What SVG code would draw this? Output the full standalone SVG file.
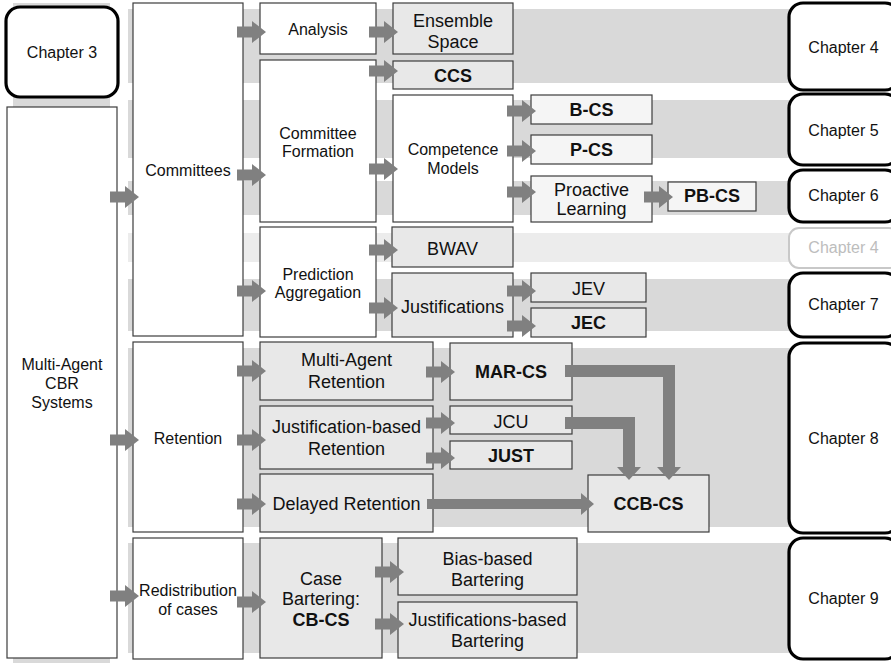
<svg xmlns="http://www.w3.org/2000/svg" xmlns:xlink="http://www.w3.org/1999/xlink" width="891" height="663" viewBox="0 0 891 663">
<style>
.band{fill:#d9d9d9}
.bandl{fill:#ececec}
.w{fill:#ffffff;stroke:#3c3c3c;stroke-width:1.2}
.g{fill:#e8e8e8;stroke:#3c3c3c;stroke-width:1.2}
.l{fill:#f5f5f5;stroke:#3c3c3c;stroke-width:1.2}
.ch{fill:#ffffff;stroke:#000000;stroke-width:3.2}
.chl{fill:#ffffff;stroke:#c8c8c8;stroke-width:2}
text{font-family:"Liberation Sans",Arial,sans-serif;text-anchor:middle;fill:#111111}
.s16{font-size:16px}
.s18{font-size:18px}
.b{font-weight:bold}
.lt{fill:#bdbdbd}
.arr{fill:#808080}
</style>
<defs>
<path id="ar" class="arr" d="M-29,-5.5 H-14 V-11 L0,0 L-14,11 V5.5 H-29 Z"/>
</defs>
<g id="bands">
<rect class="band" x="13" y="3" width="97" height="660"/>
<rect class="band" x="128" y="9" width="672" height="74"/>
<rect class="band" x="128" y="100" width="672" height="58"/>
<rect class="band" x="128" y="181" width="672" height="34"/>
<rect class="bandl" x="128" y="233" width="672" height="29"/>
<rect class="band" x="128" y="279" width="672" height="52"/>
<rect class="band" x="128" y="348" width="672" height="179"/>
<rect class="band" x="128" y="543" width="672" height="110"/>
</g>
<g id="n-ch3"><rect class="ch" x="6" y="7" width="112" height="90" rx="14"/><text class="s16" x="62" y="58">Chapter 3</text></g>
<g id="n-mas"><rect class="w" x="7" y="107" width="110" height="551"/><text class="s16" x="62" y="370">Multi-Agent</text><text class="s16" x="62" y="389">CBR</text><text class="s16" x="62" y="408">Systems</text></g>
<g id="n-committees"><rect class="w" x="133" y="3" width="110" height="333"/><text class="s16" x="188" y="176">Committees</text></g>
<g id="n-retention"><rect class="w" x="133" y="342" width="110" height="190"/><text class="s16" x="188" y="444">Retention</text></g>
<g id="n-redistribution"><rect class="w" x="133" y="538" width="110" height="121"/><text class="s16" x="188" y="596">Redistribution</text><text class="s16" x="188" y="615">of cases</text></g>
<g id="n-analysis"><rect class="w" x="260" y="3" width="116" height="51"/><text class="s16" x="318" y="35">Analysis</text></g>
<g id="n-cf"><rect class="w" x="260" y="60" width="116" height="162"/><text class="s16" x="318" y="139">Committee</text><text class="s16" x="318" y="157">Formation</text></g>
<g id="n-pa"><rect class="w" x="260" y="227" width="116" height="110"/><text class="s16" x="318" y="280">Prediction</text><text class="s16" x="318" y="298">Aggregation</text></g>
<g id="n-mar"><rect class="g" x="260" y="342" width="173" height="58"/><text class="s18" x="346.5" y="366">Multi-Agent</text><text class="s18" x="346.5" y="388">Retention</text></g>
<g id="n-jbr"><rect class="g" x="260" y="406" width="173" height="63"/><text class="s18" x="346.5" y="433">Justification-based</text><text class="s18" x="346.5" y="455">Retention</text></g>
<g id="n-dr"><rect class="g" x="260" y="474" width="173" height="58"/><text class="s18" x="346.5" y="510">Delayed Retention</text></g>
<g id="n-cb"><rect class="g" x="260" y="538" width="122" height="120"/><text class="s18" x="321" y="585">Case</text><text class="s18" x="321" y="605">Bartering:</text><text class="s18 b" x="321" y="626">CB-CS</text></g>
<g id="n-es"><rect class="g" x="393" y="3" width="120" height="51"/><text class="s18" x="453" y="27">Ensemble</text><text class="s18" x="453" y="48">Space</text></g>
<g id="n-ccs"><rect class="g" x="393" y="61" width="120" height="28"/><text class="s18 b" x="453" y="82">CCS</text></g>
<g id="n-cm"><rect class="w" x="393" y="95" width="120" height="127"/><text class="s16" x="453" y="155">Competence</text><text class="s16" x="453" y="174">Models</text></g>
<g id="n-bwav"><rect class="g" x="392" y="227" width="121" height="40"/><text class="s18" x="452.5" y="255">BWAV</text></g>
<g id="n-just"><rect class="g" x="392" y="273" width="121" height="64"/><text class="s18" x="452.5" y="313">Justifications</text></g>
<g id="n-marcs"><rect class="g" x="450" y="343" width="122" height="57"/><text class="s18 b" x="511" y="378">MAR-CS</text></g>
<g id="n-jcu"><rect class="g" x="450" y="406" width="122" height="28"/><text class="s18" x="511" y="428">JCU</text></g>
<g id="n-justc"><rect class="g" x="450" y="441" width="122" height="28"/><text class="s18 b" x="511" y="462">JUST</text></g>
<g id="n-ccbcs"><rect class="g" x="588" y="475" width="121" height="57"/><text class="s18 b" x="648.5" y="510">CCB-CS</text></g>
<g id="n-bias"><rect class="g" x="398" y="538" width="179" height="57"/><text class="s18" x="487.5" y="565">Bias-based</text><text class="s18" x="487.5" y="586">Bartering</text></g>
<g id="n-jbb"><rect class="g" x="398" y="602" width="179" height="56"/><text class="s18" x="487.5" y="626">Justifications-based</text><text class="s18" x="487.5" y="647">Bartering</text></g>
<g id="n-bcs"><rect class="l" x="531" y="95" width="121" height="29"/><text class="s18 b" x="591.5" y="116">B-CS</text></g>
<g id="n-pcs"><rect class="l" x="531" y="135" width="121" height="29"/><text class="s18 b" x="591.5" y="156">P-CS</text></g>
<g id="n-pl"><rect class="l" x="531" y="176" width="121" height="46"/><text class="s18" x="591.5" y="196">Proactive</text><text class="s18" x="591.5" y="215">Learning</text></g>
<g id="n-pbcs"><rect class="l" x="668" y="182" width="88" height="29"/><text class="s18 b" x="712" y="202">PB-CS</text></g>
<g id="n-jev"><rect class="g" x="531" y="273" width="115" height="29"/><text class="s18" x="588.5" y="295">JEV</text></g>
<g id="n-jec"><rect class="g" x="531" y="308" width="115" height="29"/><text class="s18 b" x="588.5" y="329">JEC</text></g>
<g id="n-ch4a"><rect class="ch" x="789" y="3" width="110" height="87" rx="14"/><text class="s16" x="843.5" y="53">Chapter 4</text></g>
<g id="n-ch5"><rect class="ch" x="789" y="94" width="110" height="71" rx="14"/><text class="s16" x="843.5" y="136">Chapter 5</text></g>
<g id="n-ch6"><rect class="ch" x="789" y="170" width="110" height="52" rx="14"/><text class="s16" x="843.5" y="201">Chapter 6</text></g>
<g id="n-ch4b"><rect class="chl" x="789" y="228" width="110" height="40" rx="10"/><text class="s16 lt" x="843.5" y="253">Chapter 4</text></g>
<g id="n-ch7"><rect class="ch" x="789" y="273" width="110" height="64" rx="14"/><text class="s16" x="843.5" y="310">Chapter 7</text></g>
<g id="n-ch8"><rect class="ch" x="789" y="343" width="110" height="190" rx="14"/><text class="s16" x="843.5" y="444">Chapter 8</text></g>
<g id="n-ch9"><rect class="ch" x="789" y="538" width="110" height="121" rx="14"/><text class="s16" x="843.5" y="604">Chapter 9</text></g>
<g id="connectors">
<use xlink:href="#ar" x="139" y="197"/>
<use xlink:href="#ar" x="139" y="440"/>
<use xlink:href="#ar" x="139" y="596"/>
<use xlink:href="#ar" x="266" y="32"/>
<use xlink:href="#ar" x="266" y="175"/>
<use xlink:href="#ar" x="266" y="291"/>
<use xlink:href="#ar" x="266" y="371"/>
<use xlink:href="#ar" x="266" y="440"/>
<use xlink:href="#ar" x="266" y="504"/>
<use xlink:href="#ar" x="266" y="602"/>
<use xlink:href="#ar" x="398" y="32"/>
<use xlink:href="#ar" x="398" y="71"/>
<use xlink:href="#ar" x="398" y="169"/>
<use xlink:href="#ar" x="398" y="250"/>
<use xlink:href="#ar" x="398" y="308"/>
<use xlink:href="#ar" x="536" y="111"/>
<use xlink:href="#ar" x="536" y="151"/>
<use xlink:href="#ar" x="536" y="192"/>
<use xlink:href="#ar" x="673" y="197"/>
<use xlink:href="#ar" x="536" y="291"/>
<use xlink:href="#ar" x="536" y="326"/>
<use xlink:href="#ar" x="455" y="372"/>
<use xlink:href="#ar" x="455" y="423"/>
<use xlink:href="#ar" x="455" y="458"/>
<use xlink:href="#ar" x="404" y="572"/>
<use xlink:href="#ar" x="404" y="624"/>
<path class="arr" d="M427,499 H581 V493 L594,504 L581,515 V509 H427 Z"/>
<path class="arr" d="M565,365 H675 V467 H681 L669,480 L657,467 H663 V377 H565 Z"/>
<path class="arr" d="M565,417 H635 V467 H641 L629,480 L617,467 H623 V429 H565 Z"/>
</g>
</svg>
